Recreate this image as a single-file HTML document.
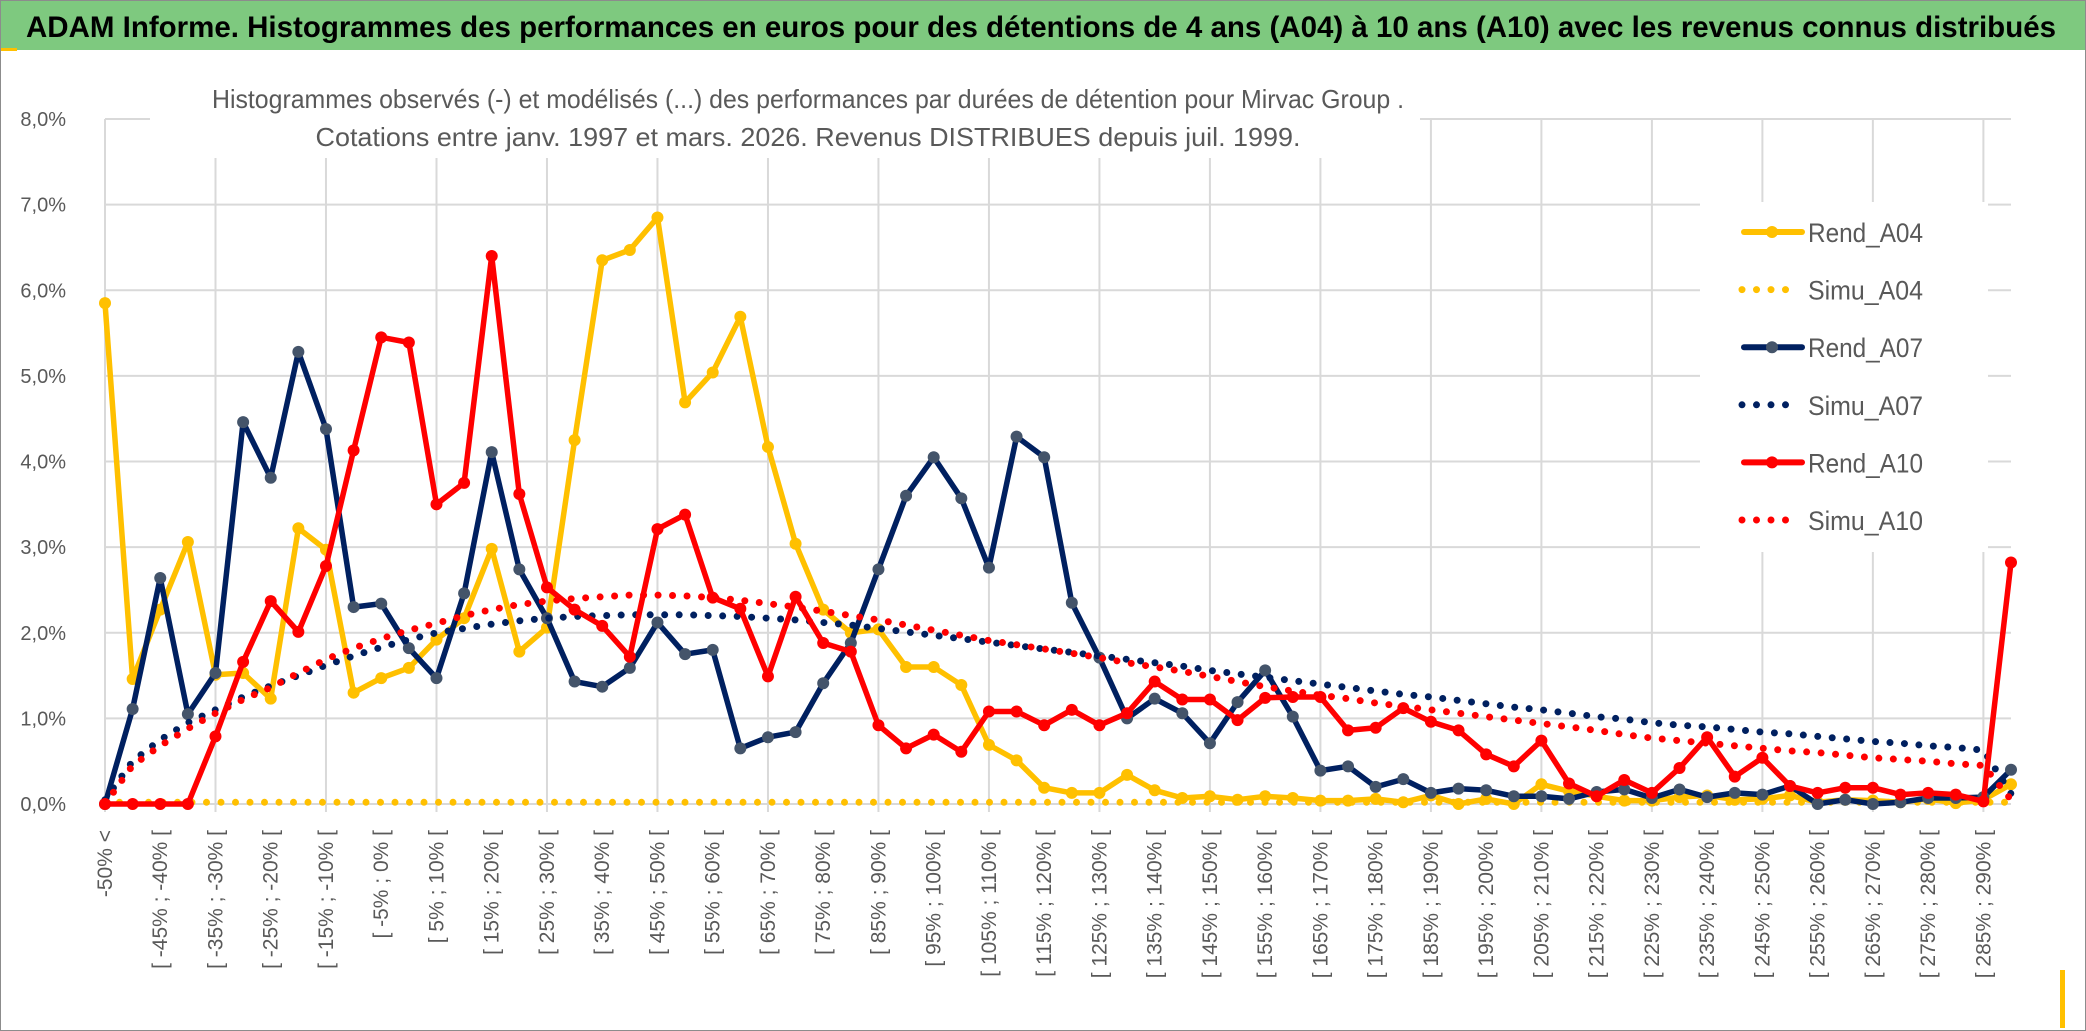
<!DOCTYPE html>
<html><head><meta charset="utf-8">
<style>
html,body{margin:0;padding:0;background:#fff;}
svg{display:block;font-family:"Liberation Sans","DejaVu Sans",sans-serif;}
</style></head>
<body>
<svg id="chart" width="2086" height="1031" viewBox="0 0 2086 1031" xmlns="http://www.w3.org/2000/svg">
  <rect x="0.5" y="0.5" width="2085" height="1030" fill="#fff" stroke="#8c8c8c"/>
  <rect x="1" y="1" width="2084" height="49" fill="#7ec97f"/>
  <rect x="1" y="48" width="16" height="3" fill="#ffc000"/>
  <rect x="2060" y="970" width="5" height="58" fill="#ffc000"/>
  <text x="26" y="37" font-size="30" font-weight="bold" fill="#000" textLength="2030" lengthAdjust="spacingAndGlyphs">ADAM Informe. Histogrammes des performances en euros pour des détentions de 4 ans (A04) à 10 ans (A10) avec les revenus connus distribués</text>
  <g id="grid"></g>
  <rect x="150" y="78" width="1270" height="80" fill="#fff"/>
  <text x="808" y="108" font-size="26" fill="#595959" text-anchor="middle" textLength="1192" lengthAdjust="spacingAndGlyphs">Histogrammes observés (-) et modélisés (...) des performances par durées de détention pour Mirvac Group .</text>
  <text x="808" y="146" font-size="26" fill="#595959" text-anchor="middle" textLength="985" lengthAdjust="spacingAndGlyphs">Cotations entre janv. 1997 et mars. 2026. Revenus DISTRIBUES depuis juil. 1999.</text>
  <g id="yticks"></g>
  <g id="xticks"></g>
  <g id="series"></g>
  <g id="legend"></g>
</svg>
<script>
const rendA04 = [5.85,1.46,2.27,3.06,1.51,1.53,1.23,3.22,2.97,1.30,1.47,1.59,1.92,2.17,2.98,1.78,2.06,4.25,6.35,6.47,6.85,4.69,5.04,5.69,4.17,3.04,2.27,2.00,2.04,1.60,1.60,1.39,0.69,0.51,0.19,0.13,0.13,0.34,0.16,0.07,0.09,0.05,0.09,0.07,0.04,0.04,0.06,0.02,0.10,0.00,0.06,0.00,0.23,0.15,0.09,0.04,0.04,0.08,0.10,0.05,0.06,0.10,0.02,0.05,0.04,0.02,0.06,0.01,0.05,0.23];
const simuA04 = [0.02,0.02,0.02,0.02,0.02,0.02,0.02,0.02,0.02,0.02,0.02,0.02,0.02,0.02,0.02,0.02,0.02,0.02,0.02,0.02,0.02,0.02,0.02,0.02,0.02,0.02,0.02,0.02,0.02,0.02,0.02,0.02,0.02,0.02,0.02,0.02,0.02,0.02,0.02,0.02,0.02,0.02,0.02,0.02,0.02,0.02,0.02,0.02,0.02,0.02,0.02,0.02,0.02,0.02,0.02,0.02,0.02,0.02,0.02,0.02,0.02,0.02,0.02,0.02,0.02,0.02,0.02,0.02,0.02,0.02];
const rendA07 = [0,1.11,2.64,1.05,1.53,4.46,3.81,5.28,4.38,2.30,2.34,1.82,1.47,2.46,4.11,2.74,2.17,1.43,1.37,1.59,2.12,1.75,1.80,0.65,0.78,0.84,1.41,1.88,2.74,3.60,4.05,3.57,2.76,4.29,4.05,2.35,1.71,1.00,1.23,1.06,0.71,1.19,1.56,1.02,0.39,0.44,0.20,0.29,0.13,0.18,0.16,0.09,0.09,0.06,0.14,0.17,0.07,0.17,0.08,0.13,0.11,0.21,0.00,0.05,0.00,0.02,0.07,0.07,0.08,0.40];
const simuA07 = [0.05,0.50,0.75,0.95,1.10,1.25,1.38,1.50,1.62,1.73,1.83,1.92,2.00,2.05,2.10,2.14,2.17,2.19,2.20,2.21,2.21,2.21,2.20,2.19,2.17,2.15,2.12,2.09,2.05,2.01,1.97,1.93,1.89,1.85,1.81,1.77,1.73,1.69,1.65,1.61,1.56,1.52,1.48,1.44,1.40,1.36,1.32,1.28,1.25,1.21,1.17,1.13,1.10,1.06,1.02,0.99,0.95,0.92,0.90,0.87,0.84,0.82,0.79,0.76,0.73,0.71,0.68,0.66,0.63,0.12];
const rendA10 = [0,0,0,0,0.79,1.66,2.37,2.01,2.78,4.13,5.45,5.39,3.50,3.75,6.40,3.62,2.53,2.27,2.08,1.72,3.21,3.38,2.41,2.28,1.49,2.42,1.88,1.78,0.92,0.65,0.81,0.61,1.08,1.08,0.92,1.10,0.92,1.06,1.43,1.22,1.22,0.98,1.24,1.25,1.25,0.86,0.89,1.12,0.96,0.86,0.58,0.44,0.74,0.24,0.09,0.28,0.13,0.42,0.78,0.32,0.54,0.21,0.13,0.19,0.19,0.11,0.13,0.11,0.03,2.82];
const simuA10 = [0.00,0.45,0.68,0.88,1.06,1.22,1.36,1.53,1.69,1.82,1.93,2.03,2.11,2.20,2.27,2.33,2.37,2.40,2.42,2.44,2.44,2.43,2.41,2.38,2.34,2.30,2.25,2.20,2.15,2.09,2.03,1.97,1.91,1.86,1.81,1.76,1.71,1.65,1.60,1.55,1.49,1.43,1.37,1.32,1.27,1.23,1.18,1.14,1.10,1.06,1.02,0.98,0.94,0.90,0.86,0.81,0.77,0.74,0.71,0.68,0.65,0.62,0.60,0.57,0.54,0.52,0.50,0.47,0.45,0.05];
const yTickValues = [0,1,2,3,4,5,6,7,8];
const yTickLabels = ["0,0%","1,0%","2,0%","3,0%","4,0%","5,0%","6,0%","7,0%","8,0%"];
const categories = ["-50% <"];
for (let k = 0; k < 69; k++) { categories.push("[ " + (-50 + 5 * k) + "% ; " + (-45 + 5 * k) + "% ["); }

const NS = "http://www.w3.org/2000/svg";
const X0 = 105, X1 = 2011, Y0 = 804, YMAX = 8, PH = 685;
function xPos(i){ return X0 + i * (X1 - X0) / (categories.length - 1); }
function yPos(v){ return Y0 - v / YMAX * PH; }
function mk(tag, attrs, parent){ const e = document.createElementNS(NS, tag); for (const k in attrs) e.setAttribute(k, attrs[k]); parent.appendChild(e); return e; }

const grid = document.getElementById('grid');
yTickValues.forEach((v, i) => {
  const l = mk('line', {x1: X0, x2: X1, y1: yPos(v), y2: yPos(v), stroke: '#d9d9d9', 'stroke-width': 2}, grid);
  
  
  const t = mk('text', {x: 66, y: yPos(v) + 7, 'font-size': 20, fill: '#595959', 'text-anchor': 'end'}, document.getElementById('yticks'));
  t.textContent = yTickLabels[i];
  
  
});
for (let i = 0; i < categories.length; i += 4) {
  const l = mk('line', {x1: xPos(i), x2: xPos(i), y1: yPos(YMAX), y2: Y0 + 8, stroke: '#d9d9d9', 'stroke-width': 2}, grid);
  
  
}
const xt = document.getElementById('xticks');
for (let i = 0; i < categories.length; i += 2) {
  const x = xPos(i) + 7, y = 830;
  const t = mk('text', {x: x, y: y, 'font-size': 21, fill: '#595959', 'text-anchor': 'end', transform: 'rotate(-90 ' + x + ' ' + y + ')'}, xt);
  t.textContent = categories[i];
  
  
}

const seriesLayer = document.getElementById('series');
function drawSolid(data, color, markerColor, name){
  const g = mk('g', {}, seriesLayer);
  
  
  const pts = data.map((v, i) => xPos(i).toFixed(1) + ',' + yPos(v).toFixed(1)).join(' ');
  const pl = mk('polyline', {points: pts, fill: 'none', stroke: color, 'stroke-width': 5.5, 'stroke-linejoin': 'round'}, g);
  
  
  data.forEach((v, i) => {
    const c = mk('circle', {cx: xPos(i), cy: yPos(v), r: 6, fill: markerColor}, g);
    
    
  });
}
function drawDotted(data, color, name){
  const pts = data.map((v, i) => xPos(i).toFixed(1) + ',' + yPos(v).toFixed(1)).join(' ');
  const pl = mk('polyline', {points: pts, fill: 'none', stroke: color, 'stroke-width': 7, 'stroke-linecap': 'round', 'stroke-dasharray': '0 14.5'}, seriesLayer);
  
  
}
drawSolid(rendA04, '#ffc000', '#ffc000', 'rend-a04');
drawDotted(simuA04, '#ffc000', 'simu-a04');
drawSolid(rendA07, '#002060', '#44546a', 'rend-a07');
drawDotted(simuA07, '#002060', 'simu-a07');
drawSolid(rendA10, '#ff0000', '#ff0000', 'rend-a10');
drawDotted(simuA10, '#ff0000', 'simu-a10');

const legend = document.getElementById('legend');
const lbg = mk('rect', {x: 1700, y: 202, width: 288, height: 350, fill: '#fff'}, legend);


const legNames = ['Rend_A04','Simu_A04','Rend_A07','Simu_A07','Rend_A10','Simu_A10'];
const legColors = ['#ffc000','#ffc000','#002060','#002060','#ff0000','#ff0000'];
const legMarkers = ['#ffc000','','#44546a','','#ff0000',''];
legNames.forEach((n, i) => {
  const y = 232 + i * 57.6;
  const g = mk('g', {}, legend);
  
  
  if (legMarkers[i]) {
    mk('line', {x1: 1744, x2: 1802, y1: y, y2: y, stroke: legColors[i], 'stroke-width': 6, 'stroke-linecap': 'round'}, g);
    mk('circle', {cx: 1772, cy: y, r: 6, fill: legMarkers[i]}, g);
  } else {
    const end = i === 5 ? 1800 : 1790;
    mk('line', {x1: 1742, x2: end, y1: y, y2: y, stroke: legColors[i], 'stroke-width': 7, 'stroke-linecap': 'round', 'stroke-dasharray': '0 14.5'}, g);
  }
  const t = mk('text', {x: 1808, y: y + 10, 'font-size': 27, fill: '#595959', textLength: 115, lengthAdjust: 'spacingAndGlyphs'}, g);
  t.textContent = n;
});
</script>
</body></html>
